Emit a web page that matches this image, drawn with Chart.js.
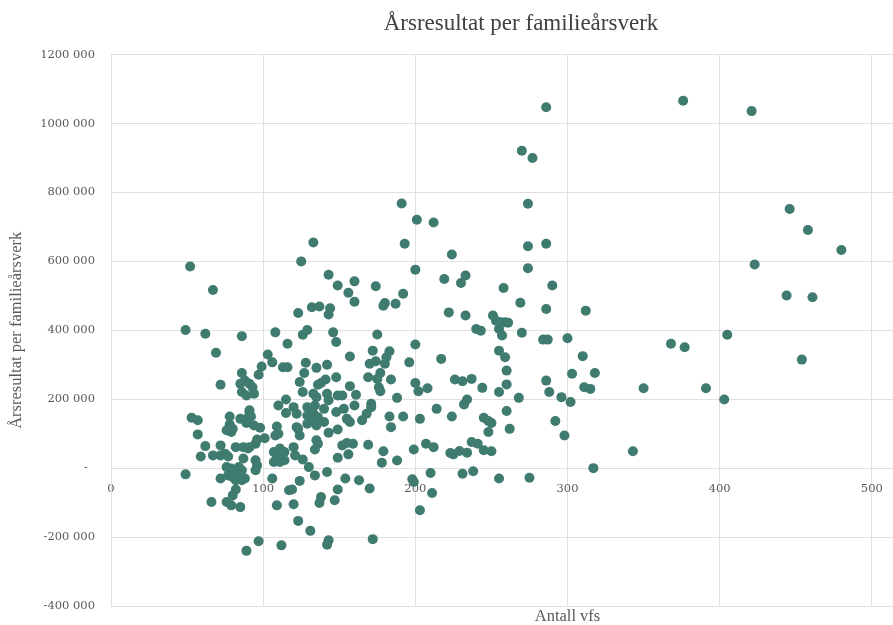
<!DOCTYPE html>
<html>
<head>
<meta charset="utf-8">
<script src="https://cdn.jsdelivr.net/npm/chart.js@4.4.1/dist/chart.umd.min.js"></script>
<style>
  html, body { margin: 0; padding: 0; background: #fff; overflow: hidden; }
  #wrap { width: 1042px; height: 625px; }
</style>
</head>
<body>
<div id="wrap"><canvas id="myChart" width="1042" height="625"></canvas></div>
<script>
// Antall vfs (x)
const vfs = [
  133, 52, 125, 67, 143, 149, 123, 132, 137, 144, 143, 49, 62, 86, 108, 126, 129, 146, 148, 116,
  69, 103, 106, 99, 97, 113, 116, 128, 135, 142, 127, 124, 72, 86, 88, 85, 91, 86, 94, 89,
  93, 141, 138, 136, 148, 126, 133, 135, 142, 143, 149, 91, 110, 115, 120, 129, 134, 140, 148, 115,
  122, 129, 133, 131, 136, 129, 135, 140, 53, 57, 78, 85, 91, 92, 89, 88, 94, 98, 78, 80,
  76, 79, 57, 101, 96, 95, 91, 109, 110, 108, 123, 124, 122, 143, 149, 135, 136, 134, 62, 72,
  82, 87, 90, 59, 67, 72, 75, 77, 107, 111, 114, 120, 121, 114, 111, 107, 109, 126, 130, 134,
  142, 149, 87, 95, 96, 95, 76, 79, 84, 86, 83, 77, 80, 72, 86, 88, 82, 49, 106, 124,
  82, 80, 76, 79, 85, 66, 117, 119, 149, 147, 138, 137, 109, 120, 123, 131, 143, 142, 97, 89,
  112, 193, 224, 200, 219, 233, 230, 160, 156, 160, 174, 192, 180, 179, 187, 222, 233, 251, 253, 255,
  240, 243, 175, 200, 172, 183, 181, 180, 174, 170, 157, 217, 196, 255, 177, 169, 175, 176, 177, 184,
  157, 200, 202, 208, 226, 231, 237, 244, 255, 152, 161, 160, 171, 171, 153, 188, 214, 234, 232, 168,
  165, 155, 157, 183, 184, 192, 203, 224, 245, 248, 250, 248, 152, 155, 159, 169, 156, 179, 178, 188,
  199, 207, 212, 223, 225, 229, 234, 237, 241, 245, 250, 210, 231, 238, 255, 154, 163, 170, 198, 199,
  211, 203, 172, 286, 270, 277, 274, 274, 286, 274, 258, 290, 269, 286, 312, 256, 259, 261, 257, 270,
  284, 287, 300, 259, 310, 260, 303, 318, 286, 260, 288, 296, 302, 311, 315, 350, 268, 260, 292, 262,
  298, 343, 317, 275, 191, 201, 212, 376, 421, 446, 458, 480, 423, 444, 461, 405, 368, 377, 454, 391,
  403
];

// Årsresultat per familieårsverk (y)
const arsresultat = [
  655000, 585000, 600000, 517000, 561000, 530000, 450000, 467000, 469000, 464000, 446000, 401000, 390000, 383000, 394000, 387000, 401000, 394000, 366000, 361000,
  335000, 330000, 307000, 295000, 271000, 293000, 293000, 306000, 291000, 300000, 276000, 250000, 242000, 276000, 254000, 245000, 245000, 221000, 216000, 211000,
  235000, 257000, 247000, 242000, 264000, 221000, 216000, 206000, 216000, 197000, 211000, 168000, 182000, 199000, 177000, 177000, 182000, 172000, 163000, 160000,
  158000, 153000, 158000, 139000, 148000, 129000, 124000, 134000, 146000, 139000, 150000, 143000, 160000, 150000, 131000, 141000, 124000, 117000, 127000, 114000,
  110000, 105000, 98000, 87000, 83000, 71000, 61000, 121000, 100000, 95000, 114000, 95000, 119000, 103000, 112000, 81000, 71000, 54000, 64000, 66000,
  61000, 61000, 57000, 34000, 37000, 37000, 42000, 34000, 47000, 57000, 47000, 61000, 37000, 23000, 18000, 18000, 32000, 25000, 3000, -21000,
  -11000, 30000, 28000, 23000, 8000, -6000, 3000, -1000, 3000, -6000, -16000, -21000, -26000, -30000, -35000, -30000, -35000, -18000, -30000, -37000,
  -62000, -79000, -98000, -108000, -113000, -98000, -64000, -62000, -62000, -93000, -84000, -101000, -108000, -105000, -153000, -182000, -209000, -222000, -212000, -240000,
  -224000, 651000, 620000, 576000, 549000, 559000, 537000, 542000, 509000, 483000, 528000, 506000, 479000, 471000, 477000, 452000, 443000, 443000, 428000, 404000,
  404000, 399000, 388000, 359000, 341000, 339000, 322000, 303000, 310000, 303000, 324000, 317000, 307000, 341000, 276000, 264000, 259000, 235000, 223000, 257000,
  238000, 247000, 223000, 232000, 257000, 252000, 259000, 233000, 221000, 211000, 213000, 182000, 187000, 177000, 172000, 204000, 172000, 199000, 185000, 158000,
  139000, 143000, 134000, 150000, 119000, 150000, 143000, 150000, 146000, 137000, 131000, 105000, 66000, 73000, 71000, 68000, 40000, 49000, 16000, 22000,
  54000, 71000, 61000, 44000, 40000, 50000, 45000, 76000, 71000, 52000, 49000, -14000, -16000, -9000, -30000, -30000, -35000, -59000, -32000, -40000,
  -72000, -122000, -206000, 1047000, 921000, 900000, 767000, 644000, 651000, 580000, 523000, 530000, 480000, 462000, 457000, 423000, 423000, 422000, 385000, 393000,
  373000, 373000, 377000, 322000, 325000, 283000, 274000, 276000, 254000, 243000, 221000, 206000, 192000, 235000, 230000, 232000, 204000, 166000, 137000, 114000,
  95000, 49000, 0, -28000, 768000, 721000, 713000, 1066000, 1036000, 752000, 691000, 633000, 591000, 501000, 496000, 387000, 361000, 351000, 315000, 232000,
  199000
];

const xTicks = [0, 100, 200, 300, 400, 500, 600];
const yTicks = [-400000, -200000, 0, 200000, 400000, 600000, 800000, 1000000, 1200000];

const points = vfs.map((x, i) => ({ x: x, y: arsresultat[i] }));

const gridColor = "#e0e0e0";
const textColor = "#595959";

// title centred on the whole (wider) picture
const titleShift = {
  id: "titleShift",
  afterLayout(chart) {
    chart.titleBlock.left = 0;
    chart.titleBlock.right = 1042;
  },
};

new Chart("myChart", {
  type: "scatter",
  data: {
    datasets: [
      {
        data: points,
        backgroundColor: "#3f7b6f",
        borderColor: "#3f7b6f",
        borderWidth: 0,
        pointRadius: 5,
        pointHoverRadius: 5,
      },
    ],
  },
  options: {
    responsive: false,
    animation: false,
    events: [],
    layout: { padding: { top: 1, right: 18, bottom: 0, left: 0 } },
    plugins: {
      legend: { display: false },
      tooltip: { enabled: false },
      title: {
        display: true,
        text: "Årsresultat per familieårsverk",
        color: "#404040",
        font: { family: "Liberation Serif", size: 23, weight: "normal" },
        padding: { top: 9, bottom: 17 },
      },
    },
    scales: {
      x: {
        type: "linear",
        min: 0,
        max: 600,
        afterBuildTicks: (axis) => {
          axis.ticks = xTicks.map((v) => ({ value: v }));
        },
        afterFit: (scale) => {
          scale.height = 19;
        },
        ticks: { display: false },
        grid: { color: gridColor, drawTicks: false },
        border: { color: gridColor },
        title: {
          display: true,
          text: "Antall vfs",
          color: textColor,
          font: { family: "Liberation Serif", size: 16.5, lineHeight: 1 },
          padding: { top: 0, bottom: 0 },
        },
      },
      // labels sit on the zero line
      xZero: {
        type: "linear",
        axis: "x",
        position: { y: 0 },
        min: 0,
        max: 600,
        afterBuildTicks: (axis) => {
          axis.ticks = xTicks.map((v) => ({ value: v }));
        },
        grid: { color: "rgba(0,0,0,0)", tickColor: "rgba(0,0,0,0)", drawOnChartArea: false, tickLength: 14 },
        border: { display: false },
        ticks: {
          padding: 0,
          maxRotation: 0,
          color: textColor,
          font: { family: "DejaVu Serif", size: 11.5 },
        },
      },
      y: {
        type: "linear",
        min: -400000,
        max: 1200000,
        afterBuildTicks: (axis) => {
          axis.ticks = yTicks.map((v) => ({ value: v }));
        },
        afterFit: (scale) => {
          scale.width = 111;
        },
        ticks: {
          padding: 0,
          color: textColor,
          font: { family: "DejaVu Serif", size: 11.5 },
          callback: (v) => (v === 0 ? "-  " : v / 1000 + " 000"),
        },
        grid: { color: gridColor, tickColor: "rgba(0,0,0,0)", tickLength: 16 },
        border: { color: gridColor },
        title: {
          display: true,
          text: "Årsresultat per familieårsverk",
          color: textColor,
          font: { family: "Liberation Serif", size: 16.5 },
          padding: { top: 7, bottom: 0 },
        },
      },
    },
  },
  plugins: [titleShift],
});
</script>
</body>
</html>
